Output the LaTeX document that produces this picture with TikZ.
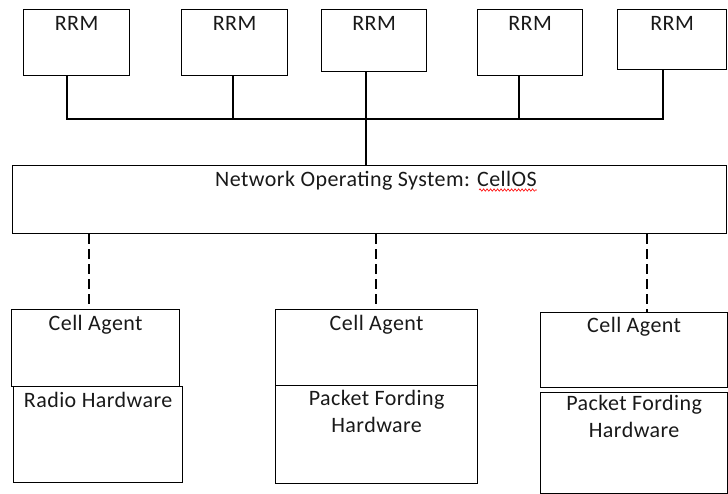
\documentclass[tikz,border=0pt]{standalone}
\usepackage{fontspec}
\setmainfont{Carlito}[LetterSpace=2.0]
\usetikzlibrary{calc,decorations.pathmorphing}
\tikzset{
  box/.style={draw=black, line width=1.3pt, anchor=north west, inner sep=0pt, minimum width=#1},
  lbl/.style={anchor=base, inner sep=0pt, font=\fontsize{22}{26}\selectfont, text=black!90},
  wire/.style={draw=black, line width=1.3pt},
  dwire/.style={draw=black, line width=1.3pt, dash pattern=on 10pt off 5pt},
}
\begin{document}
\begin{tikzpicture}[x=1pt,y=-1pt]
\useasboundingbox (0,0) rectangle (728,493);
% RRM boxes
\node[box=106pt, minimum height=66pt] (r1) at (23,9) {};
\node[box=106pt, minimum height=66pt] (r2) at (181,9) {};
\node[box=105pt, minimum height=62pt] (r3) at (321,9) {};
\node[box=105pt, minimum height=66pt] (r4) at (477,9) {};
\node[box=109pt, minimum height=60pt] (r5) at (617,9) {};
\foreach \i in {1,...,5} {
  \node[lbl] (tr\i) at ($(r\i.north)+(0,21)$) {RRM};
}
% bus
\coordinate (b1) at (67,119);
\coordinate (b2) at (233,119);
\coordinate (b3) at (366,119);
\coordinate (b4) at (519,119);
\coordinate (b5) at (663,119);
\draw[wire] (b1 |- r1.south) -- (b1) -- (b5) -- (b5 |- r5.south);
\draw[wire] (b2 |- r2.south) -- (b2);
\draw[wire] (b4 |- r4.south) -- (b4);
% NOS
\node[box=714pt, minimum height=68pt] (nos) at (12,165) {};
\draw[wire] (b3 |- r3.south) -- (b3) -- (b3 |- nos.north);
\node[lbl] (tnos) at (376,186) {Network Operating System: CellOS};
\draw[red, line width=0.6pt, decorate, decoration={snake, amplitude=1.2pt, segment length=3.5pt}]
  ($(tnos.base east)+(-58,4)$) -- ($(tnos.base east)+(0,4)$);
% Cell agents and hardware
\node[box=168pt, minimum height=77pt] (ca1) at (11,309) {};
\node[box=169pt, minimum height=96pt] (hw1) at (13,386) {};
\node[box=202pt, minimum height=76pt] (ca2) at (275,309) {};
\node[box=202pt, minimum height=98pt] (hw2) at (275,385) {};
\node[box=187pt, minimum height=75pt] (ca3) at (540,312) {};
\node[box=187pt, minimum height=101pt] (hw3) at (540,392) {};
\node[lbl] (tca1) at ($(ca1.north)+(0,21)$) {Cell Agent};
\node[lbl] (tca2) at ($(ca2.north)+(0,21)$) {Cell Agent};
\node[lbl] (tca3) at ($(ca3.north)+(0,20)$) {Cell Agent};
\node[lbl] (thw1) at ($(hw1.north)+(0,21)$) {Radio Hardware};
\node[lbl] (thw2a) at ($(hw2.north)+(0,20)$) {Packet Fording};
\node[lbl] (thw2b) at ($(hw2.north)+(0,47)$) {Hardware};
\node[lbl] (thw3a) at ($(hw3.north)+(0,18)$) {Packet Fording};
\node[lbl] (thw3b) at ($(hw3.north)+(0,45)$) {Hardware};
% dashed links
\coordinate (d1) at (89,0);
\coordinate (d2) at (376,0);
\coordinate (d3) at (647,0);
\draw[dwire] (d1 |- nos.south) -- (d1 |- ca1.north);
\draw[dwire] (d2 |- nos.south) -- (d2 |- ca2.north);
\draw[dwire] (d3 |- nos.south) -- (d3 |- ca3.north);
\end{tikzpicture}
\end{document}
